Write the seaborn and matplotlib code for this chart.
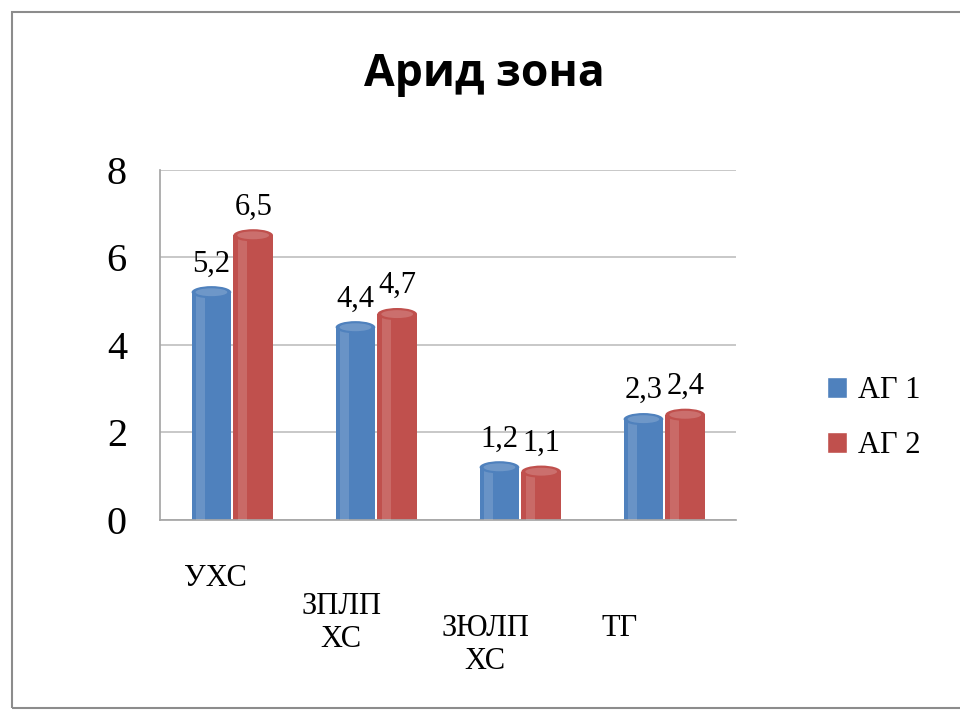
import matplotlib
matplotlib.use("Agg")
import matplotlib.pyplot as plt
import seaborn as sns
import pandas as pd
from matplotlib.patches import Ellipse, Rectangle
from matplotlib.transforms import ScaledTranslation

# --- datos ---
categorias = ["УХС", "ЗПЛП\nХС", "ЗЮЛП\nХС", "ТГ"]
serie_ag1 = [5.2, 4.4, 1.2, 2.3]
serie_ag2 = [6.5, 4.7, 1.1, 2.4]
series = ["АГ 1", "АГ 2"]
y_ticks = [0, 2, 4, 6, 8]

df = pd.DataFrame({
    "Категория": categorias * 2,
    "Значение": serie_ag1 + serie_ag2,
    "Серия": [series[0]] * len(categorias) + [series[1]] * len(categorias),
})

sns.set_theme(style="white")
plt.rcParams["font.family"] = ["Liberation Serif", "DejaVu Serif"]
plt.rcParams["text.color"] = "black"
plt.rcParams["xtick.color"] = "black"
plt.rcParams["ytick.color"] = "black"
plt.rcParams["xtick.labelcolor"] = "black"
plt.rcParams["ytick.labelcolor"] = "black"

colores = {"АГ 1": "#4F81BD", "АГ 2": "#C0504D"}

fig = plt.figure(figsize=(9.6, 7.22), dpi=100)
ax = fig.add_axes([0.167, 0.28, 0.60, 0.485])

# marco exterior
fig.patches.append(Rectangle((0.0125, 0.02), 1.2, 0.963, transform=fig.transFigure,
                             fill=False, edgecolor="#8c8c8c", linewidth=1.5))

sns.barplot(data=df, x="Категория", y="Значение", hue="Серия", palette=colores,
            width=0.58, gap=0.05, ax=ax, legend=True, saturation=1)

ax.set_ylim(0, 8)
ax.set_yticks(y_ticks)
ax.yaxis.grid(True, color="#bfbfbf", linewidth=1.2)
ax.set_axisbelow(True)
for s in ["top", "right"]:
    ax.spines[s].set_visible(False)
ax.spines["left"].set_color("#a6a6a6")
ax.spines["bottom"].set_color("#a6a6a6")
ax.set_xlabel("")
ax.set_ylabel("")
ax.tick_params(axis="y", labelsize=29, pad=18)
ax.tick_params(axis="x", labelsize=22, pad=22)

# etiquetas escalonadas como en la vista en perspectiva
desplaz = [(-0.17, -0.05), (-0.35, -0.33), (-0.35, -0.55), (-0.45, -0.55)]
for lbl, (dx, dy) in zip(ax.get_xticklabels(), desplaz):
    lbl.set_transform(lbl.get_transform() + ScaledTranslation(dx, dy, fig.dpi_scale_trans))

# efecto cilindro: tapas elípticas sobre cada barra
for cont, nombre in zip(ax.containers, series):
    base = colores[nombre]
    for p in cont.patches:
        x0 = p.get_x()
        w = p.get_width()
        h = p.get_height()
        p.set_edgecolor("none")
        ax.add_patch(Ellipse((x0 + w / 2, h), w, 0.28, facecolor=base,
                             edgecolor="none", zorder=4))
        ax.add_patch(Ellipse((x0 + w / 2, h), w * 0.8, 0.18, facecolor="white",
                             alpha=0.18, edgecolor="none", zorder=5))
        ax.add_patch(Ellipse((x0 + w / 2, 0), w, 0.28, facecolor=base,
                             edgecolor="none", zorder=2))
        ax.add_patch(Rectangle((x0 + w * 0.12, 0), w * 0.22, h, facecolor="white",
                               alpha=0.15, edgecolor="none", zorder=3))
    ax.bar_label(cont, labels=[f"{v:.1f}".replace(".", ",") for v in cont.datavalues],
                 fontsize=22, padding=10, color="black")

ax.legend(handles=ax.get_legend().legend_handles, labels=series,
          loc="center left", bbox_to_anchor=(1.11, 0.29), frameon=False,
          fontsize=22, handlelength=0.65, handleheight=0.65, handletextpad=0.35,
          labelspacing=0.85)

fig.text(0.505, 0.897, "Арид зона", ha="center", va="center", fontsize=32,
         fontweight="bold", color="black", family=["Open Sans", "DejaVu Sans"])

fig.savefig("out.png", dpi=100)
